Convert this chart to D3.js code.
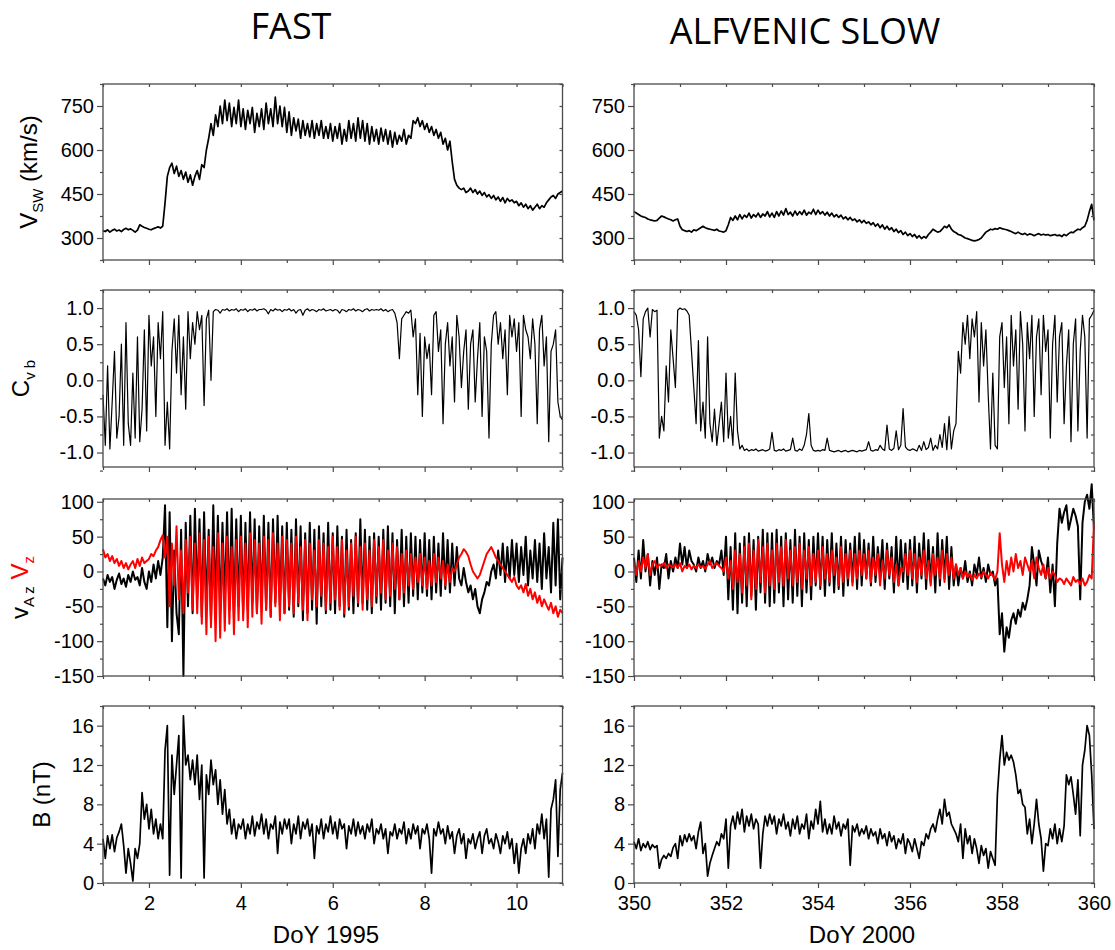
<!DOCTYPE html>
<html>
<head>
<meta charset="utf-8">
<script src="https://cdn.jsdelivr.net/npm/d3@7"></script>
<style>
  body { margin: 0; background: #fff; }
  text { font-family: "Liberation Sans", Arial, sans-serif; }
</style>
</head>
<body>
<div id="container"></div>
<script>
/* DATA (one value every 0.05 day) */
const fastDays = [1, 11];
const slowDays = [350, 360];
const fastMajor = [2, 4, 6, 8, 10];
const fastMinor = [1, 3, 5, 7, 9, 11];
const slowMajor = [350, 352, 354, 356, 358, 360];
const slowMinor = [351, 353, 355, 357, 359];

// solar wind speed, km/s
const vswFast = [
  325,322,328,320,326,330,324,327,322,329,333,328,331,326,320,327,345,340,336,333,
  330,328,332,335,338,334,340,420,510,540,555,520,545,510,530,500,525,490,515,480,
  510,530,500,550,540,600,640,690,650,720,680,750,690,770,700,760,680,745,690,770,
  680,740,670,735,690,745,660,725,680,740,670,760,690,740,680,780,690,750,680,745,
  660,730,650,710,665,705,640,700,650,690,645,700,640,690,650,700,640,680,640,690,
  630,680,640,690,620,670,630,700,640,690,630,710,640,700,630,690,620,680,630,670,
  620,675,630,670,620,665,610,660,620,650,630,670,620,650,640,700,690,710,680,700,
  670,690,660,680,650,670,640,660,620,640,600,630,560,500,480,470,465,470,455,460,
  470,455,465,450,460,445,455,440,448,435,445,430,440,425,438,420,435,425,430,420,
  425,410,420,405,415,400,410,395,405,415,400,410,405,420,430,440,445,435,450,455,
  460
];
const vswSlow = [
  390,385,380,375,372,370,365,362,360,358,360,368,375,372,368,365,362,358,362,365,
  340,328,325,322,325,320,328,325,330,335,340,335,332,330,328,326,330,324,322,320,
  325,345,370,360,375,362,380,365,378,370,385,368,380,372,385,370,382,375,390,372,
  385,370,390,375,392,378,400,380,388,375,392,378,390,380,395,378,388,382,398,380,
  395,382,390,378,388,375,385,372,380,370,378,365,372,362,370,360,365,355,362,352,
  360,350,355,345,352,340,348,335,345,330,340,328,335,322,330,318,325,312,320,308,
  315,305,312,300,308,298,305,300,312,320,330,325,320,322,330,340,335,345,330,322,
  318,312,310,305,300,298,295,292,290,292,295,300,310,320,325,330,328,332,330,335,
  332,330,328,325,322,318,315,320,315,312,316,310,314,312,308,312,315,310,313,310,
  312,308,310,312,308,310,305,312,308,315,320,318,325,330,328,335,340,360,390,415,
  360
];

// cross helicity C_vb
const cvbFast = [
  -0.2,-0.9,0.2,-0.95,-0.3,0.4,-0.8,-0.5,0.5,-0.9,0.8,-0.6,-0.9,0.1,-0.8,0.6,-0.85,-0.4,0.7,-0.7,
  0.9,0.2,0.6,-0.5,0.8,0.3,0.95,-0.9,-0.3,-0.95,0.4,0.85,0.1,0.9,-0.2,0.6,-0.4,0.95,0.3,0.8,
  0.5,0.95,0.7,0.9,-0.35,0.85,0.97,0.0,0.95,0.98,0.97,0.93,0.98,0.97,0.99,0.96,0.98,0.97,0.99,0.95,
  0.98,0.97,0.99,0.95,0.98,0.97,0.99,0.96,0.98,0.98,0.99,0.97,0.92,0.98,0.96,0.99,0.97,0.98,0.95,0.98,
  0.97,0.99,0.96,0.98,0.93,0.97,0.98,0.9,0.97,0.99,0.96,0.98,0.97,0.95,0.98,0.97,0.99,0.96,0.97,0.98,
  0.96,0.98,0.97,0.93,0.98,0.97,0.95,0.98,0.97,0.99,0.96,0.98,0.97,0.95,0.98,0.99,0.96,0.98,0.97,0.98,
  0.97,0.99,0.96,0.98,0.95,0.97,0.98,0.93,0.8,0.3,0.85,0.9,0.95,0.93,0.97,0.6,0.85,-0.2,0.65,-0.5,
  0.6,0.3,0.5,-0.2,0.9,0.95,0.4,0.7,-0.6,0.5,0.8,0.2,0.6,-0.3,0.9,0.6,-0.1,0.4,0.7,-0.4,
  0.5,0.7,-0.3,0.3,0.8,-0.5,0.6,0.4,-0.8,0.5,0.9,0.95,0.5,0.8,0.3,0.7,-0.2,0.9,0.6,0.85,
  0.4,0.8,-0.5,0.9,0.7,0.6,0.3,0.85,0.5,-0.6,0.7,0.9,0.2,0.6,-0.85,0.4,0.5,0.7,-0.3,-0.5,
  -0.55
];
const cvbSlow = [
  0.95,0.9,0.7,0.05,0.85,0.95,1.0,0.6,0.98,0.95,0.97,-0.8,-0.5,-0.7,0.2,-0.3,0.7,0.3,-0.1,0.97,
  1.0,0.98,0.99,0.96,0.9,0.4,-0.1,-0.6,0.55,-0.7,-0.3,-0.8,0.6,-0.6,-0.85,-0.4,-0.9,-0.6,-0.3,-0.85,
  0.1,-0.8,-0.5,-0.9,0.1,-0.7,-0.95,-0.9,-0.97,-0.95,-0.98,-0.96,-0.97,-0.95,-0.98,-0.97,-0.96,-0.98,-0.97,-0.95,
  -0.72,-0.97,-0.98,-0.96,-0.97,-0.95,-0.98,-0.97,-0.96,-0.8,-0.97,-0.98,-0.95,-0.97,-0.9,-0.75,-0.46,-0.9,-0.97,-0.98,
  -0.97,-0.98,-0.96,-0.97,-0.8,-0.97,-0.98,-0.99,-0.98,-0.97,-0.99,-0.98,-0.97,-0.99,-0.98,-0.97,-0.98,-0.99,-0.97,-0.98,
  -0.97,-0.96,-0.85,-0.97,-0.98,-0.96,-0.97,-0.9,-0.95,-0.97,-0.62,-0.95,-0.97,-0.94,-0.7,-0.96,-0.9,-0.39,-0.92,-0.96,
  -0.97,-0.95,-0.96,-0.98,-0.9,-0.97,-0.85,-0.96,-0.93,-0.8,-0.97,-0.9,-0.95,-0.75,-0.93,-0.6,-0.96,-0.5,-0.95,-0.7,
  -0.6,0.4,0.1,0.8,0.5,0.9,0.3,0.85,0.6,0.95,-0.3,0.8,0.2,0.7,-0.2,-0.95,0.1,-0.9,-0.95,0.6,
  0.8,-0.1,0.6,-0.6,0.9,0.2,0.7,-0.4,0.95,0.5,-0.7,0.8,0.3,0.9,-0.5,0.6,0.85,-0.2,0.9,0.4,
  0.7,-0.8,0.5,0.9,-0.3,0.6,0.8,-0.6,0.2,0.7,-0.85,0.5,0.85,-0.7,0.4,0.9,0.6,-0.8,0.85,0.9,
  0.97
];

// Alfven speed z component (black) and velocity z component (red), km/s
const vazFast = [
  -10,-20,-5,-15,-8,-25,-12,-3,-18,-10,-22,-5,-15,0,-12,-8,-20,5,-15,-25,
  0,-15,10,-10,15,-5,20,95,-80,85,-100,30,-60,-90,60,-150,70,-50,80,-60,
  90,-40,75,-65,85,-55,60,-70,95,-50,80,-60,70,-45,85,-55,90,-65,75,-50,
  80,-60,70,-55,85,-45,75,-60,65,-50,80,-55,70,-65,75,-45,80,-50,65,-60,
  70,-55,60,-65,75,-50,65,-70,55,-60,70,-55,60,-75,65,-50,55,-60,70,-55,
  55,-60,65,-50,50,-65,60,-55,45,-60,55,-50,75,-45,60,-55,50,-60,55,-45,
  50,-55,60,-45,65,-50,55,-60,45,-40,60,-50,50,-45,55,-35,50,-40,45,-30,
  55,-35,45,-40,50,-30,40,-35,55,-25,45,-30,40,-20,35,-10,-20,5,-15,-30,
  -20,-40,-25,-50,-60,-40,-30,-15,-20,0,10,-10,30,-5,40,-15,35,-10,45,-5,
  40,-15,35,-5,50,-20,30,-10,45,-15,40,-25,55,-10,35,-30,70,-20,75,-40,
  20
];
const vzFast = [
  32,20,25,15,22,12,18,8,15,5,12,3,10,15,5,18,8,20,12,15,
  18,25,22,30,35,45,52,20,50,-50,40,-20,65,-40,30,-60,45,-30,50,-55,
  40,-60,55,-75,45,-90,50,-80,35,-100,55,-95,40,-85,50,-75,35,-90,45,-70,
  50,-70,40,-80,55,-65,45,-60,40,-75,50,-55,45,-65,55,-50,40,-70,50,-60,
  45,-50,40,-60,50,-45,35,-55,45,-70,40,-40,30,-50,45,-35,40,-55,35,-45,
  50,-40,35,-55,45,-60,30,-50,40,-35,50,-45,35,-55,40,-40,30,-50,45,-35,
  35,-30,45,-40,30,-35,40,-25,35,-40,25,-30,30,-20,25,-25,20,-15,25,-20,
  20,-25,15,-20,25,-15,20,-10,15,-20,10,-15,5,0,10,20,25,32,28,22,
  10,0,-5,-10,-5,5,15,25,30,35,28,20,15,10,5,0,-5,-10,-15,-8,
  -20,-25,-20,-30,-18,-35,-25,-40,-30,-45,-35,-50,-40,-48,-55,-45,-60,-50,-65,-55,
  -60
];
const vazSlow = [
  20,-15,30,-10,45,0,25,-20,15,-5,20,-25,10,5,25,-10,15,0,20,5,
  40,10,35,5,30,15,10,0,20,5,15,0,25,10,20,5,15,10,30,-5,
  50,-40,35,-55,55,-60,40,-45,50,-50,55,-35,45,-55,50,-30,60,-45,55,-50,
  55,-45,60,-30,50,-50,55,-40,45,-45,60,-35,50,-50,55,-30,45,-40,50,-20,
  55,-25,50,-35,45,-20,55,-30,40,-25,50,-35,45,-20,40,-15,50,-25,55,-20,
  45,-10,40,-20,50,-15,35,-5,45,-25,40,-10,35,-30,50,-20,45,-15,40,-25,
  45,-20,50,-30,40,-10,55,-25,45,-15,35,-30,55,-20,45,-10,50,-25,35,-20,
  10,-20,5,-10,15,-15,0,-20,10,-5,20,-10,5,-15,10,-5,0,-20,-10,-90,
  -60,-115,-80,-95,-70,-60,-75,-55,-65,-45,-55,-40,-20,35,10,-20,30,15,5,-10,
  20,-30,10,-50,40,90,70,85,95,60,75,90,80,65,-40,70,100,110,90,125,
  60
];
const vzSlow = [
  10,-5,15,0,20,5,25,-5,10,15,5,10,8,12,5,10,8,6,10,5,
  12,0,8,5,10,3,8,5,10,6,8,4,10,15,5,10,12,8,5,0,
  20,-10,15,-25,30,-15,25,-30,35,-20,40,-40,30,-25,45,-15,35,-30,40,-20,
  30,-25,40,-15,35,-20,45,-10,30,-20,35,-15,40,-25,30,-10,35,-20,25,-15,
  30,-20,35,-10,25,-15,30,-5,20,-20,35,-15,25,-10,30,-20,25,-10,30,-5,
  25,-10,30,-15,20,-5,25,-20,15,-10,30,-5,20,-15,10,-20,5,0,25,-5,
  30,-10,25,-15,20,-5,30,-10,15,-20,25,-5,20,-10,30,-15,25,-5,20,-10,
  10,-5,5,-10,0,-8,-3,-12,-5,-10,-3,-8,0,-5,-10,-2,-6,-12,0,55,
  10,-15,15,-5,20,0,25,5,15,-5,20,10,0,15,-10,20,5,-5,10,-10,
  5,-10,0,-5,-15,-10,-12,-18,-10,-15,-20,-8,-15,-12,-18,-10,-20,-15,-5,-10,
  70
];

// magnetic field magnitude, nT
const bFast = [
  4.5,2.5,4.8,3.5,4.9,3.2,4.6,5.2,6.0,3.8,1.0,3.5,2.0,0.2,3.5,2.5,4.0,9.2,6.5,8.0,
  5.5,7.5,5.0,6.5,4.5,6.0,4.5,13.5,16.0,0.8,13.0,9.0,12.0,15.0,0.5,17.0,12.0,13.0,10.5,12.5,
  10.0,13.0,8.5,12.0,0.5,11.0,9.0,12.5,10.0,11.5,8.0,10.5,7.0,9.5,6.0,7.5,5.0,6.5,4.5,6.0,
  5.5,6.5,4.5,6.0,5.0,6.8,4.8,6.2,5.5,7.0,5.0,6.5,4.5,6.0,5.5,6.8,3.0,6.2,5.0,6.5,
  5.5,6.5,4.0,6.0,5.0,6.8,4.5,6.2,5.5,6.5,4.8,6.0,2.5,5.8,5.0,6.5,4.5,6.0,5.2,6.8,
  5.0,6.2,4.5,6.5,5.5,6.0,3.5,5.8,5.0,6.5,4.8,6.2,5.0,5.8,4.5,6.0,5.2,6.5,4.0,5.5,
  5.0,6.0,4.5,5.5,3.0,5.2,4.8,6.0,4.5,5.5,5.0,6.2,4.0,5.5,4.5,6.0,5.0,5.8,3.5,5.5,
  5.0,6.0,4.5,1.0,5.5,4.8,6.2,5.0,5.5,4.0,5.8,4.5,5.2,3.0,4.8,5.5,4.0,5.0,2.5,4.5,
  4.0,5.0,3.5,4.5,5.2,3.0,4.8,5.5,4.0,4.5,3.5,5.0,4.2,3.0,4.8,4.0,5.2,3.5,4.5,2.0,
  4.0,1.0,3.5,4.5,3.0,5.0,4.0,5.5,3.5,6.0,5.0,7.0,4.5,6.5,0.6,7.5,8.5,10.5,2.7,9.5,
  11.2
];
const bSlow = [
  4.2,3.5,4.5,3.3,4.0,3.6,4.2,3.4,3.9,3.6,3.8,1.5,2.4,2.8,2.5,3.0,2.7,3.6,4.0,2.5,
  4.8,3.8,4.9,4.2,5.0,4.3,4.8,3.5,5.2,6.2,3.0,4.0,0.7,2.0,2.8,3.5,4.2,3.8,5.0,4.5,
  6.5,1.5,5.8,6.8,5.5,7.2,6.0,7.5,5.2,6.8,5.8,7.0,5.5,6.5,6.0,1.5,5.0,6.8,5.8,7.0,
  6.0,6.8,5.0,6.5,5.8,7.0,5.5,6.2,4.8,6.5,5.5,6.8,5.0,6.0,5.5,7.0,4.5,6.3,5.5,7.5,
  6.0,8.3,5.2,6.5,5.0,6.0,5.0,6.8,5.5,6.2,4.8,6.0,5.5,6.5,1.8,5.8,5.2,6.0,4.8,5.5,
  5.0,5.8,4.5,5.5,4.8,5.2,4.0,5.5,4.5,5.0,3.8,5.2,4.2,4.8,3.5,4.5,4.0,5.0,3.0,4.5,
  4.0,3.2,4.5,3.5,2.5,4.2,3.8,5.0,4.5,5.5,6.0,5.2,6.5,7.5,6.0,8.5,6.8,7.2,6.0,5.5,
  5.0,4.2,6.0,2.5,5.5,4.0,4.8,3.0,4.5,3.5,2.0,3.8,2.8,3.5,1.5,3.2,2.5,1.8,9.0,12.5,
  15.0,12.0,13.3,12.5,13.0,12.3,11.0,9.1,9.5,8.0,7.7,5.0,6.5,4.0,6.0,8.5,6.0,4.5,1.2,4.0,
  3.8,5.5,4.5,6.0,4.0,5.5,4.2,5.8,11.0,10.0,10.8,9.0,7.0,10.5,4.8,12.0,13.5,16.0,15.0,11.0,
  5.5
];

// y tick labels per row
const vswTicks = [300, 450, 600, 750];
const cvbTicks = [-1.0, -0.5, 0.0, 0.5, 1.0];
const vTicks = [-150, -100, -50, 0, 50, 100];
const bTicks = [0, 4, 8, 12, 16];

/* CONSTANTS AND GLOBALS */
const width = 1115, height = 950;
const colX = [[103, 562.5], [634, 1094]];
const rowY = [[84, 260], [290, 467], [499, 676], [706, 883]];
const frameColor = "#4a4a4a";
const tickFont = "20px";

const cols = [
  { days: fastDays, major: fastMajor, minor: fastMinor, title: "FAST", titleX: 291, titleY: 39, xLabel: "DoY 1995", xLabelX: 326 },
  { days: slowDays, major: slowMajor, minor: slowMinor, title: "ALFVENIC SLOW", titleX: 805, titleY: 44, xLabelX: 862, xLabel: "DoY 2000" }
];

const plain = d => String(d);
const rows = [
  { domain: [225, 825], major: vswTicks, minor: [225, 375, 525, 675, 825], fmt: plain, lw: 1.7,
    series: [[{ values: vswFast, color: "#000" }], [{ values: vswSlow, color: "#000" }]],
    labelX: 37,
    label: [{ t: "V" }, { t: "SW", sub: true }, { t: " (km/s)" }] },
  { domain: [-1.2, 1.25], major: cvbTicks, minor: [-1.25, -0.75, -0.25, 0.25, 0.75, 1.25], fmt: d => d.toFixed(1), lw: 1.2,
    series: [[{ values: cvbFast, color: "#000" }], [{ values: cvbSlow, color: "#000" }]],
    labelX: 29,
    label: [{ t: "C" }, { t: "v b", sub: true }] },
  { domain: [-150, 104], major: vTicks, minor: [-125, -75, -25, 25, 75], fmt: plain, lw: 2,
    series: [[{ values: vazFast, color: "#000" }, { values: vzFast, color: "#ff0000" }],
             [{ values: vazSlow, color: "#000" }, { values: vzSlow, color: "#ff0000" }]],
    labelX: 28,
    label: [{ t: "v" }, { t: "A z", sub: true }, { t: " " }, { t: "V", color: "#ff0000" }, { t: "z", sub: true, color: "#ff0000" }] },
  { domain: [0, 18], major: bTicks, minor: [2, 6, 10, 14, 18], fmt: plain, lw: 1.7,
    series: [[{ values: bFast, color: "#000" }], [{ values: bSlow, color: "#000" }]],
    labelX: 50,
    label: [{ t: "B (nT)" }] }
];

// turn a value list into time/value points spread evenly over the day range
function toPoints(values, days) {
  const dt = (days[1] - days[0]) / (values.length - 1);
  return values.map((v, i) => ({ t: days[0] + i * dt, v: v }));
}

function styleAxis(g) {
  g.select(".domain").remove();
  g.selectAll("line").attr("stroke", frameColor).attr("stroke-width", 1.2);
  g.selectAll("text").attr("fill", "#000").style("font-size", tickFont)
    .style("font-family", '"Liberation Sans", Arial, sans-serif');
}

/* DRAW */
const svg = d3.select("#container")
  .append("svg")
  .attr("width", width)
  .attr("height", height)
  .style("background", "#fff");

rows.forEach((row, r) => {
  const [y0, y1] = rowY[r];

  cols.forEach((col, c) => {
    const [x0, x1] = colX[c];
    const xScale = d3.scaleLinear().domain(col.days).range([x0, x1]);
    const yScale = d3.scaleLinear().domain(row.domain).range([y1, y0]);
    const g = svg.append("g");

    const line = d3.line()
      .x(d => xScale(d.t))
      .y(d => yScale(d.v));

    row.series[c].forEach(s => {
      g.append("path")
        .datum(toPoints(s.values, col.days))
        .attr("fill", "none")
        .attr("stroke", s.color)
        .attr("stroke-width", row.lw)
        .attr("stroke-linejoin", "round")
        .attr("d", line);
    });

    // frame
    g.append("rect")
      .attr("x", x0).attr("y", y0)
      .attr("width", x1 - x0).attr("height", y1 - y0)
      .attr("fill", "none")
      .attr("stroke", frameColor)
      .attr("stroke-width", 1.3);

    // left axis, major + minor
    g.append("g").attr("transform", `translate(${x0},0)`)
      .call(d3.axisLeft(yScale).tickValues(row.major).tickSize(6).tickPadding(3).tickFormat(row.fmt))
      .call(styleAxis);
    g.append("g").attr("transform", `translate(${x0},0)`)
      .call(d3.axisLeft(yScale).tickValues(row.minor).tickSize(3).tickFormat(""))
      .call(styleAxis);
    // right mirror ticks (inward)
    g.append("g").attr("transform", `translate(${x1},0)`)
      .call(d3.axisLeft(yScale).tickValues(row.major.concat(row.minor)).tickSize(3).tickFormat(""))
      .call(styleAxis);

    // bottom axis
    const last = r === rows.length - 1;
    g.append("g").attr("transform", `translate(0,${y1})`)
      .call(d3.axisBottom(xScale).tickValues(col.major).tickSize(5).tickPadding(8)
        .tickFormat(last ? plain : ""))
      .call(styleAxis);
    g.append("g").attr("transform", `translate(0,${y1})`)
      .call(d3.axisBottom(xScale).tickValues(col.minor).tickSize(3).tickFormat(""))
      .call(styleAxis);
    // top mirror ticks (inward)
    g.append("g").attr("transform", `translate(0,${y0})`)
      .call(d3.axisBottom(xScale).tickValues(col.major.concat(col.minor)).tickSize(3).tickFormat(""))
      .call(styleAxis);
  });

  // y label, rotated, with subscripts
  const cy = (y0 + y1) / 2;
  const lab = svg.append("text")
    .attr("transform", `translate(${row.labelX},${cy}) rotate(-90)`)
    .attr("text-anchor", "middle")
    .style("font-size", "24px")
    .attr("fill", "#000");
  let shifted = false;
  row.label.forEach(p => {
    const ts = lab.append("tspan").text(p.t).attr("fill", p.color || "#000");
    if (p.sub && !shifted) { ts.attr("dy", 6).style("font-size", "15px"); shifted = true; }
    else if (p.sub) { ts.style("font-size", "15px"); }
    else if (shifted) { ts.attr("dy", -6); shifted = false; }
  });
});

// column titles and x labels
cols.forEach(col => {
  svg.append("text")
    .attr("x", col.titleX).attr("y", col.titleY)
    .attr("text-anchor", "middle")
    .style("font-family", '"Open Sans", "Noto Sans", sans-serif')
    .style("font-size", "36px")
    .text(col.title);
  svg.append("text")
    .attr("x", col.xLabelX).attr("y", 943)
    .attr("text-anchor", "middle")
    .style("font-size", "24px")
    .text(col.xLabel);
});
</script>
</body>
</html>
